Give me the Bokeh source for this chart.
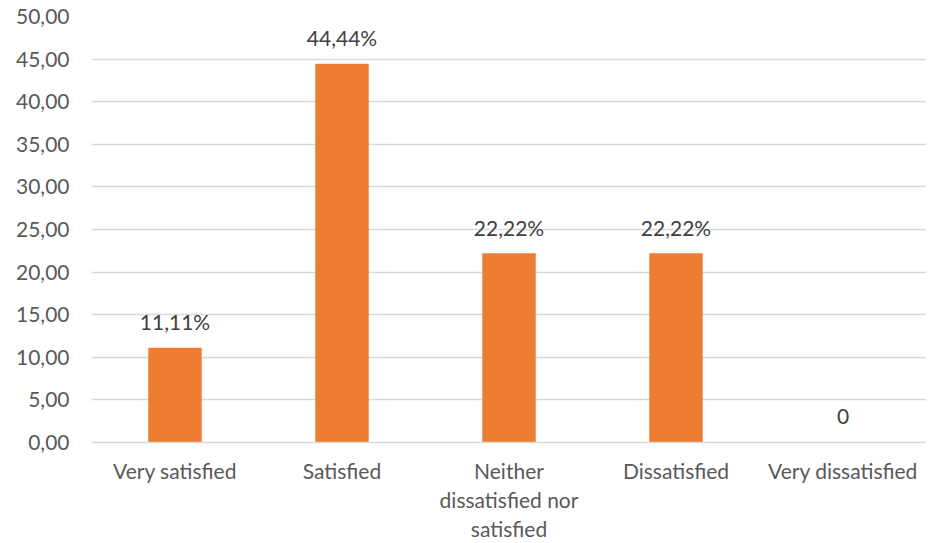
from bokeh.plotting import figure
from bokeh.models import FixedTicker, ColumnDataSource, LabelSet, CategoricalAxis, FactorRange
from bokeh.core.properties import value
from bokeh.embed import file_html
from bokeh.resources import INLINE

categories = ["Very satisfied", "Satisfied", "Neither dissatisfied nor satisfied",
              "Dissatisfied", "Very dissatisfied"]
# wrapped tick label lines (blank entries are distinct runs of spaces)
category_line1 = ["Very satisfied", "Satisfied", "Neither", "Dissatisfied", "Very dissatisfied"]
category_line2 = [" ", "  ", "dissatisfied nor", "   ", "    "]
category_line3 = [" ", "  ", "satisfied", "   ", "    "]
values = [11.11, 44.44, 22.22, 22.22, 0]
value_labels = ["11,11%", "44,44%", "22,22%", "22,22%", "0"]
y_ticks = [0, 5, 10, 15, 20, 25, 30, 35, 40, 45, 50]
y_tick_labels = ["0,00", "5,00", "10,00", "15,00", "20,00", "25,00",
                 "30,00", "35,00", "40,00", "45,00", "50,00"]

FONT = "Lato"
src = ColumnDataSource(dict(cat=categories, val=values, lab=value_labels))

p = figure(x_range=categories, y_range=(0, 50), width=926, height=543,
           output_backend="svg", toolbar_location=None, x_axis_location=None,
           min_border_left=91, min_border_right=0, min_border_top=16, min_border_bottom=101)
p.outline_line_color = None
p.background_fill_color = "white"

p.vbar(x="cat", top="val", width=0.32, source=src, color="#ED7D31", line_color=None)

labels = LabelSet(x="cat", y="val", text="lab", source=src, text_align="center",
                  text_baseline="middle", y_offset=26, text_font=value(FONT),
                  text_font_size="21px", text_color="#404040")
p.add_layout(labels)

lines = [category_line1, category_line2, category_line3]
standoffs = [15, 1, 1]
for i, (ln, so) in enumerate(zip(lines, standoffs)):
    name = "xl%d" % i
    p.extra_x_ranges[name] = FactorRange(factors=ln)
    ax = CategoricalAxis(x_range_name=name)
    ax.axis_line_color = "#D9D9D9" if i == 0 else None
    ax.axis_line_width = 1.5
    ax.major_tick_line_color = None
    ax.minor_tick_line_color = None
    ax.major_tick_out = 0
    ax.major_tick_in = 0
    ax.minor_tick_out = 0
    ax.minor_tick_in = 0
    ax.major_label_text_font = FONT
    ax.major_label_text_font_size = "21px"
    ax.major_label_text_color = "#595959"
    ax.major_label_standoff = so
    p.add_layout(ax, "below")

p.yaxis.ticker = FixedTicker(ticks=y_ticks)
p.yaxis.major_label_overrides = {t: l for t, l in zip(y_ticks, y_tick_labels)}
p.yaxis.axis_line_color = None
p.yaxis.major_tick_line_color = None
p.yaxis.minor_tick_line_color = None
p.yaxis.major_tick_out = 0
p.yaxis.minor_tick_out = 0
p.yaxis.major_label_text_font = FONT
p.yaxis.major_label_text_font_size = "21px"
p.yaxis.major_label_text_color = "#595959"
p.yaxis.major_label_standoff = 22

p.xgrid.grid_line_color = None
p.ygrid.grid_line_color = "#D9D9D9"
p.ygrid.grid_line_width = 1.5

open("out.html", "w").write(file_html(p, INLINE))
